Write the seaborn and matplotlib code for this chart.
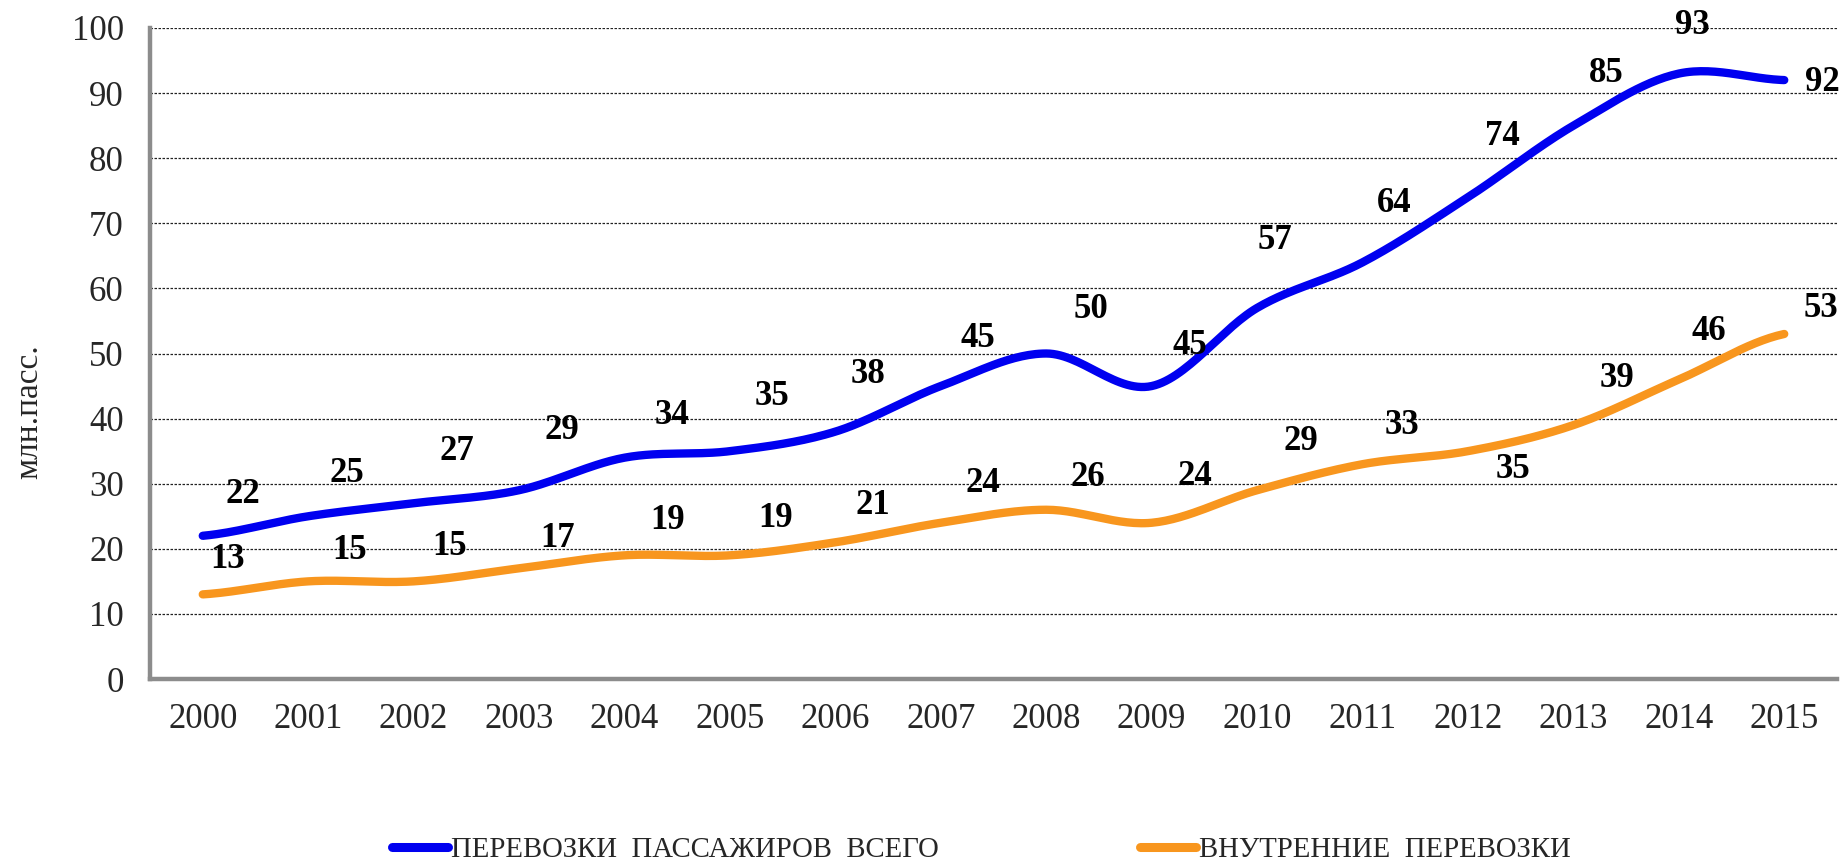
import numpy as np
import pandas as pd
import seaborn as sns
import matplotlib
matplotlib.use("Agg")
import matplotlib.pyplot as plt

years = [str(y) for y in range(2000, 2016)]
total = [22, 25, 27, 29, 34, 35, 38, 45, 50, 45, 57, 64, 74, 85, 93, 92]
domestic = [13, 15, 15, 17, 19, 19, 21, 24, 26, 24, 29, 33, 35, 39, 46, 53]
series_names = ["ПЕРЕВОЗКИ  ПАССАЖИРОВ  ВСЕГО", "ВНУТРЕННИЕ  ПЕРЕВОЗКИ"]
y_title = "млн.пасс."

# label placement (category units / value units), as in the original
total_dx = [0.38, 0.37, 0.41, 0.41, 0.45, 0.40, 0.31, 0.35, 0.42, 0.36, 0.17, 0.30, 0.33, 0.31, 0.13, 0.36]
total_dy = [6.3, 6.6, 7.9, 9.2, 6.5, 8.4, 8.7, 7.3, 6.7, 6.3, 10.3, 9.1, 9.3, 8.0, 7.4, -0.3]
dom_dx = [0.24, 0.39, 0.34, 0.37, 0.41, 0.43, 0.36, 0.40, 0.39, 0.41, 0.42, 0.37, 0.43, 0.41, 0.28, 0.35]
dom_dy = [5.3, 4.8, 5.4, 4.6, 5.4, 5.7, 5.7, 6.1, 5.0, 7.1, 7.5, 6.0, -2.8, 7.2, 7.4, 3.9]

BLUE = "#0000F0"
ORANGE = "#F8961E"


def smooth(values, steps=30):
    # Catmull-Rom style smoothing like Excel's "smoothed line"
    p = np.asarray(values, dtype=float)
    n = len(p)
    xs, ys = [], []
    for i in range(n - 1):
        p0 = p[i - 1] if i > 0 else p[i]
        p3 = p[i + 2] if i + 2 < n else p[i + 1]
        c1 = p[i] + (p[i + 1] - p0) / 6
        c2 = p[i + 1] - (p3 - p[i]) / 6
        t = np.linspace(0, 1, steps, endpoint=(i == n - 2))
        b = ((1 - t) ** 3 * p[i] + 3 * (1 - t) ** 2 * t * c1
             + 3 * (1 - t) * t ** 2 * c2 + t ** 3 * p[i + 1])
        xs.append(i + t)
        ys.append(b)
    return np.concatenate(xs), np.concatenate(ys)


sns.set_style("white")
plt.rcParams["font.family"] = ["Liberation Serif", "DejaVu Serif"]

fig = plt.figure(figsize=(18.41, 8.64), dpi=100)
ax = fig.add_axes([0.0815, 0.2141, 0.9163, 0.7535])

frames = []
for name, vals in zip(series_names, [total, domestic]):
    sx, sy = smooth(vals)
    frames.append(pd.DataFrame({"x": sx, "y": sy, "series": name}))
df = pd.concat(frames, ignore_index=True)

sns.lineplot(data=df, x="x", y="y", hue="series", sort=False,
             palette=[BLUE, ORANGE], linewidth=6, ax=ax, estimator=None,
             solid_capstyle="round")

for vals, dxs, dys in [(total, total_dx, total_dy), (domestic, dom_dx, dom_dy)]:
    for i, v in enumerate(vals):
        ax.text(i + dxs[i], v + dys[i], str(v), ha="center", va="center",
                fontsize=25, fontweight="bold", color="black")

ax.set_xlim(-0.5, len(years) - 0.5)
ax.set_ylim(0, 100)
ax.set_xticks(range(len(years)))
ax.set_xticklabels(years)
ax.set_yticks(range(0, 101, 10))
ax.tick_params(axis="both", length=0, labelsize=25)
ax.tick_params(axis="y", pad=19)
ax.tick_params(axis="x", pad=17)
ax.set_xlabel("")
ax.set_ylabel("")

ax.yaxis.grid(True, color="#222222", linestyle=(0, (2, 1.2)), linewidth=0.9)
ax.set_axisbelow(True)
for side in ["top", "right"]:
    ax.spines[side].set_visible(False)
for side in ["left", "bottom"]:
    ax.spines[side].set_color("#8c8c8c")
    ax.spines[side].set_linewidth(3.2)

fig.text(0.0157, 0.524, y_title, rotation=90, ha="center", va="center", fontsize=24)

handles, labels = ax.get_legend_handles_labels()
ax.legend_.remove()
leg = fig.legend(handles, labels, loc="center left", bbox_to_anchor=(0.213, 1 - 850 / 864),
                 ncol=2, frameon=False, fontsize=20.7, handlelength=1.95,
                 handletextpad=0.1, columnspacing=7.0, borderpad=0, borderaxespad=0)
for line in leg.get_lines():
    line.set_linewidth(6.5)

fig.savefig("out.png", dpi=100)
